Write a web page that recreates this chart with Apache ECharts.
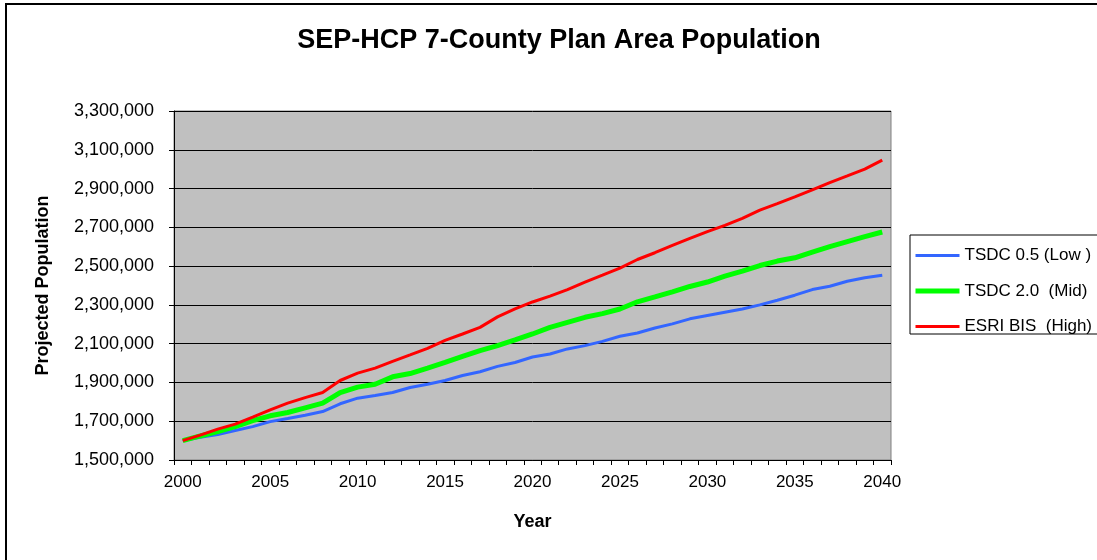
<!DOCTYPE html>
<html>
<head>
<meta charset="utf-8">
<script src="https://cdn.jsdelivr.net/npm/echarts@6/dist/echarts.min.js"></script>
<style>html,body{margin:0;padding:0;background:#fff}#c{width:1097px;height:560px}</style>
</head>
<body>
<div id="c"></div>
<script>
var years = [];
for (var y = 2000; y <= 2040; y++) years.push(String(y));

var tsdcLow = [1600000,1617000,1631000,1652000,1672000,1698000,1714000,1731000,1750000,1790000,
  1819000,1833000,1848000,1874000,1891000,1910000,1936000,1955000,1983000,2003000,
  2031000,2047000,2073000,2090000,2112000,2138000,2155000,2181000,2202000,2228000,
  2245000,2262000,2279000,2300000,2324000,2350000,2379000,2396000,2422000,2440000,2453000];
var tsdcMid = [1600000,1624000,1646000,1672000,1703000,1728000,1745000,1769000,1793000,1848000,
  1876000,1891000,1929000,1946000,1974000,2003000,2034000,2064000,2090000,2119000,
  2150000,2184000,2210000,2236000,2255000,2279000,2316000,2341000,2367000,2395000,
  2418000,2448000,2474000,2503000,2526000,2543000,2572000,2600000,2626000,2652000,2676000];
var esriHigh = [1600000,1628000,1659000,1685000,1721000,1759000,1793000,1822000,1848000,1910000,
  1948000,1974000,2009000,2042000,2076000,2117000,2150000,2184000,2238000,2279000,
  2315000,2345000,2379000,2417000,2453000,2490000,2534000,2569000,2607000,2643000,
  2678000,2710000,2746000,2789000,2822000,2857000,2893000,2931000,2965000,3000000,3047000];

var seriesNames = ['TSDC 0.5 (Low )', 'TSDC 2.0  (Mid)', 'ESRI BIS  (High)'];
var seriesColors = ['#3366FF', '#00FF00', '#FF0000'];
var seriesWidths = [3, 5, 3];
var yMin = 1500000, yMax = 3300000, yStep = 200000;

var FONT = '"Liberation Sans", Arial, sans-serif';
var chart = echarts.init(document.getElementById('c'), null, {renderer: 'canvas'});
var valueSets = [tsdcLow, tsdcMid, esriHigh];
chart.setOption({
  animation: false,
  backgroundColor: '#ffffff',
  title: {
    text: 'SEP-HCP 7-County Plan Area Population',
    left: 559, top: 27, textAlign: 'center', padding: 0,
    textStyle: {fontFamily: FONT, fontSize: 27, fontWeight: 'bold', color: '#000'}
  },
  graphic: [
    {type: 'rect', shape: {x: 6, y: 4, width: 1200, height: 700}, style: {fill: 'none', stroke: '#000', lineWidth: 2}, silent: true, z: -10},
    {type: 'rect', shape: {x: 910, y: 235, width: 200, height: 99}, style: {fill: '#fff', stroke: '#000', lineWidth: 1}, silent: true, z: 0}
  ],
  legend: {
    orient: 'vertical', left: 913, top: 247, padding: 0,
    itemWidth: 44, itemHeight: 14, itemGap: 18.5,
    textStyle: {fontFamily: FONT, fontSize: 17, color: '#000'},
    itemStyle: {opacity: 0},
    data: seriesNames.map(function (n, i) {
      return {name: n, itemStyle: {opacity: 0},
        lineStyle: {color: seriesColors[i], width: seriesWidths[i], opacity: 1}};
    }),
    z: 5
  },
  grid: {
    left: 174, right: 206, top: 111, bottom: 100,
    show: true, backgroundColor: '#C0C0C0', borderColor: '#808080', borderWidth: 1
  },
  xAxis: {
    type: 'category', data: years, boundaryGap: true,
    name: 'Year', nameLocation: 'middle', nameGap: 53,
    nameTextStyle: {fontFamily: FONT, fontSize: 18, fontWeight: 'bold', color: '#000'},
    axisLine: {lineStyle: {color: '#000', width: 1}},
    axisTick: {show: true, interval: 0, length: 5, inside: false, lineStyle: {color: '#000'}},
    axisLabel: {interval: 4, margin: 14, fontFamily: FONT, fontSize: 17, color: '#000'},
    splitLine: {show: false}
  },
  yAxis: {
    type: 'value', min: yMin, max: yMax, interval: yStep,
    name: 'Projected Population', nameLocation: 'middle', nameGap: 122,
    nameTextStyle: {fontFamily: FONT, fontSize: 18, fontWeight: 'bold', color: '#000'},
    axisLine: {show: true, lineStyle: {color: '#000', width: 1}},
    axisTick: {show: true, length: 5, lineStyle: {color: '#000'}},
    axisLabel: {margin: 20, fontFamily: FONT, fontSize: 18, color: '#000',
      formatter: function (v) { return v.toLocaleString('en-US'); }},
    splitLine: {show: true, lineStyle: {color: '#000', width: 1}}
  },
  series: seriesNames.map(function (n, i) {
    return {name: n, type: 'line', data: valueSets[i], symbol: 'none', showSymbol: false,
      lineStyle: {color: seriesColors[i], width: seriesWidths[i]},
      itemStyle: {color: seriesColors[i]}};
  })
});
</script>
</body>
</html>
